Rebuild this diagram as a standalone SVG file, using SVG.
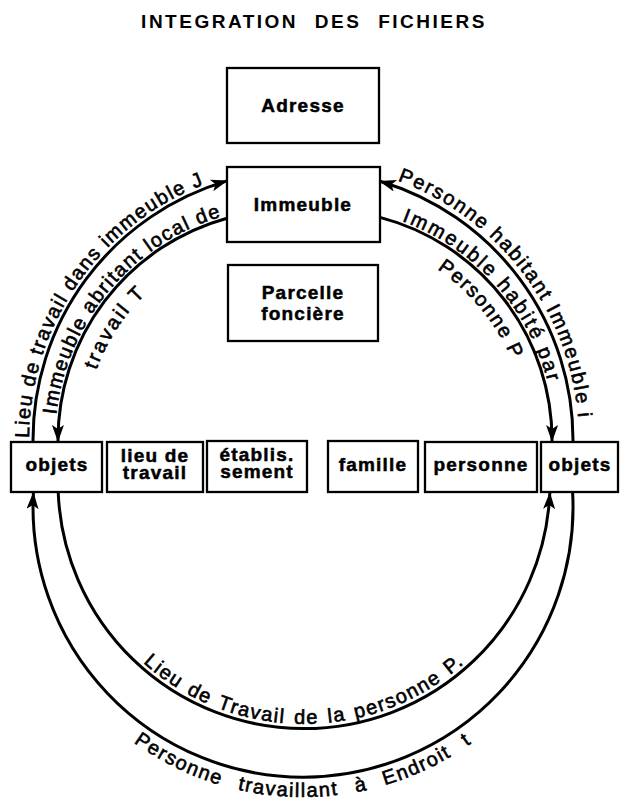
<svg xmlns="http://www.w3.org/2000/svg" width="623" height="801" viewBox="0 0 623 801">
<style>
.box{fill:#fff;stroke:#000;stroke-width:2.3}
.bt{font-family:"Liberation Sans",Arial,sans-serif;font-weight:bold;font-size:19px;letter-spacing:1.2px;text-anchor:middle;fill:#000;stroke:#000;stroke-width:0.5}
.con{fill:none;stroke:#000;stroke-width:3}
.arr{marker-end:url(#ah)}
.lbl{font-family:"Liberation Sans",Arial,sans-serif;font-size:20px;letter-spacing:1.5px;fill:#000;stroke:#000;stroke-width:0.6}
.title{font-family:"Liberation Sans",Arial,sans-serif;font-weight:bold;font-size:19px;letter-spacing:2.5px;word-spacing:9px;text-anchor:middle;fill:#000}
</style>
<defs>
<marker id="ah" markerUnits="userSpaceOnUse" markerWidth="17" markerHeight="12" viewBox="0 0 17 12" refX="16" refY="6" orient="auto"><path d="M0,0 L17,6 L0,12 L4,6 z" fill="#000"/></marker>
<path id="p1" d="M29,440 A274,274 0 0 1 279.1,167"/>
<path id="p2" d="M56.3,415.6 A233,233 0 0 1 288,207"/>
<path id="p3" d="M96.3,370.2 A204,204 0 0 1 252.6,239.1"/>
<path id="p4" d="M397.4,180.6 A276,276 0 0 1 579,440"/>
<path id="p5" d="M401.7,221 A233,233 0 0 1 555,440"/>
<path id="p6" d="M437.2,269.2 A206,206 0 0 1 528,440"/>
<path id="p7" d="M105.8,620.8 A242,242 0 0 0 502.2,620.8"/>
<path id="p8" d="M80.8,693.4 A290,290 0 0 0 525.2,693.4"/>
</defs>
<rect width="623" height="801" fill="#fff"/>
<text class="title" x="314" y="28">INTEGRATION DES FICHIERS</text>

<g id="connectors">
<g id="c1"><path class="con arr" d="M33,442 A270,270 0 0 1 227,180.9"/>
<text class="lbl"><textPath href="#p1" startOffset="2">Lieu de travail dans immeuble J</textPath></text></g>
<g id="c2"><path class="con arr" d="M227,218.2 A230,230 0 0 0 58,441"/>
<text class="lbl"><textPath href="#p2" startOffset="1">Immeuble abritant local de</textPath></text>
<text class="lbl" style="letter-spacing:2.5px"><textPath href="#p3">travail T</textPath></text></g>
<g id="c3"><path class="con arr" d="M573,442 A270,270 0 0 0 380,181.2"/>
<text class="lbl" style="letter-spacing:1.8px"><textPath href="#p4">Personne habitant Immeuble i</textPath></text></g>
<g id="c4"><path class="con arr" d="M380,217.4 A230,230 0 0 1 552,441"/>
<text class="lbl" style="letter-spacing:2.4px"><textPath href="#p5">Immeuble habité par</textPath></text>
<text class="lbl"><textPath href="#p6">Personne P</textPath></text></g>
<g id="c5"><path class="con arr" d="M572.6,492 A270,270 0 1 1 33.4,493"/>
<text class="lbl" style="word-spacing:10px;text-anchor:middle"><textPath href="#p8" startOffset="50%">Personne travaillant à Endroit t</textPath></text></g>
<g id="c6"><path class="con arr" d="M58.2,492 A246,246 0 0 0 549.8,493"/>
<text class="lbl" style="word-spacing:2px;text-anchor:middle"><textPath href="#p7" startOffset="50%">Lieu de Travail de la personne P.</textPath></text></g>
</g>

<g id="adresse"><rect class="box" x="227" y="68" width="152" height="75"/><text class="bt" x="303" y="112">Adresse</text></g>
<g id="immeuble"><rect class="box" x="227" y="167" width="153" height="75"/><text class="bt" x="303" y="211">Immeuble</text></g>
<g id="parcelle"><rect class="box" x="228" y="265" width="150" height="76"/><text class="bt" x="303" y="299">Parcelle</text><text class="bt" x="303" y="320">foncière</text></g>
<g id="objets-gauche"><rect class="box" x="11" y="442" width="91" height="50"/><text class="bt" x="57" y="471">objets</text></g>
<g id="lieu-de-travail"><rect class="box" x="107" y="442" width="96" height="50"/><text class="bt" x="155" y="462">lieu de</text><text class="bt" x="155" y="479">travail</text></g>
<g id="etablissement"><rect class="box" x="207" y="441" width="100" height="51"/><text class="bt" x="257" y="461">établis.</text><text class="bt" x="257" y="478">sement</text></g>
<g id="famille"><rect class="box" x="328" y="441" width="90" height="51"/><text class="bt" x="373" y="471">famille</text></g>
<g id="personne"><rect class="box" x="425" y="442" width="112" height="50"/><text class="bt" x="481" y="471">personne</text></g>
<g id="objets-droite"><rect class="box" x="541" y="442" width="77" height="50"/><text class="bt" x="580" y="471">objets</text></g>
</svg>
